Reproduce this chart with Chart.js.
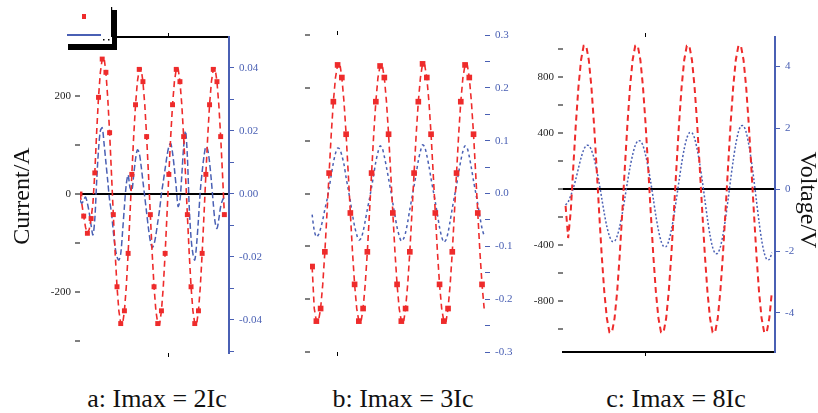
<!DOCTYPE html>
<html>
<head>
<meta charset="utf-8">
<script src="https://cdn.jsdelivr.net/npm/chart.js@4.4.1/dist/chart.umd.min.js"></script>
<style>
  body { margin: 0; background: #fff; width: 818px; height: 413px; position: relative; overflow: hidden; font-family: 'Liberation Serif', serif; }
  canvas { position: absolute; top: 0; }
  .ttl { position: absolute; width: 140px; height: 28px; line-height: 28px; text-align: center; font-size: 24px; color: #111; }
  .cap { position: absolute; top: 384px; width: 220px; height: 30px; line-height: 30px; text-align: center; font-size: 26px; color: #111; }
</style>
</head>
<body>
<canvas id="pa" width="260" height="370" style="left:30px"></canvas>
<canvas id="pb" width="270" height="370" style="left:260px"></canvas>
<canvas id="pc" width="298" height="370" style="left:520px"></canvas>
<div class="ttl" style="left:-49px;top:182px;transform:rotate(-90deg)">Current/A</div>
<div class="ttl" style="left:739px;top:186px;transform:rotate(90deg)">Voltage/V</div>
<div class="cap" style="left:47px">a: Imax = 2Ic</div>
<div class="cap" style="left:293px">b: Imax = 3Ic</div>
<div class="cap" style="left:566px">c: Imax = 8Ic</div>
<script>
// time in ms, one sample per ms
var timeA = [0,1,2,3,4,5,6,7,8,9,10,11,12,13,14,15,16,17,18,19,20,21,22,23,24,25,26,27,28,29,30,31,32,33,34,35,36,37,38,39,
  40,41,42,43,44,45,46,47,48,49,50,51,52,53,54,55,56,57,58,59,60,61,62,63,64,65,66,67,68,69,70,71,72,73,74,75,76,77,78];
var currentA = [0,-20,-45,-68,-80,-72,-50,-18,43,126,197,248,275,278,248,195,125,42,-42,-121,-189,-238,-264,-266,-238,-189,-121,-42,
  40,117,182,229,254,256,229,182,117,40,-42,-121,-189,-238,-264,-266,-238,-189,-121,-42,
  40,117,182,229,254,256,229,182,117,40,-42,-121,-189,-238,-264,-266,-238,-189,-121,-42,
  40,117,182,229,254,256,229,182,117,40,-42];
var voltageA = [-0.002,-0.003,-0.002,-0.001,-0.003,-0.006,-0.010,-0.013,-0.008,0.004,0.014,0.020,0.021,0.016,0.010,0.004,-0.002,-0.006,-0.012,-0.017,
  -0.020,-0.021,-0.019,-0.012,-0.004,0.003,0.006,0.002,0.001,0.006,0.011,0.014,0.013,0.009,0.004,-0.001,-0.006,-0.011,-0.015,-0.017,
  -0.016,-0.013,-0.009,-0.005,0.000,0.004,0.008,0.012,0.015,0.016,0.013,0.008,0.002,-0.004,-0.002,0.006,0.015,0.020,0.012,-0.004,
  -0.014,-0.019,-0.021,-0.016,-0.008,0.001,0.007,0.012,0.015,0.014,0.010,0.004,-0.003,-0.009,-0.011,-0.008,-0.004,-0.002,-0.001];

var timeB = [1,2,3,4,5,6,7,8,9,10,11,12,13,14,15,16,17,18,19,20,21,22,23,24,25,26,27,28,29,30,31,32,33,34,35,36,37,38,39,40,
  41,42,43,44,45,46,47,48,49,50,51,52,53,54,55,56,57,58,59,60,61,62,63,64,65,66,67,68,69,70,71,72,73,74,75,76,77,78,79,80,81,82];
var currentB = [-70,-110,-122,-122,-110,-87,-56,-19,19,56,87,110,122,124,110,87,56,19,-19,-56,
  -87,-110,-122,-123,-110,-87,-56,-19,19,56,87,110,121,122,110,87,56,19,-19,-56,
  -87,-110,-122,-124,-110,-87,-56,-19,19,56,87,110,123,122,110,87,56,19,-19,-56,
  -87,-110,-122,-123,-110,-87,-56,-19,19,56,87,110,122,123,110,87,56,19,-19,-56,-87,-110];
var voltageB = [-0.040,-0.070,-0.082,-0.078,-0.066,-0.050,-0.030,-0.012,0.010,0.035,0.058,0.076,0.086,0.084,0.072,0.055,0.030,0.008,-0.015,-0.040,
  -0.062,-0.078,-0.088,-0.085,-0.072,-0.052,-0.030,-0.010,0.012,0.036,0.060,0.078,0.090,0.086,0.070,0.050,0.028,0.006,-0.018,-0.042,
  -0.064,-0.080,-0.090,-0.086,-0.074,-0.054,-0.030,-0.008,0.014,0.038,0.062,0.080,0.092,0.088,0.072,0.052,0.028,0.006,-0.016,-0.040,
  -0.064,-0.082,-0.092,-0.088,-0.074,-0.052,-0.028,-0.006,0.016,0.040,0.062,0.080,0.090,0.086,0.070,0.048,0.024,0.002,-0.020,-0.044,-0.066,-0.080];

var timeC = [1,2,3,4,5,6,7,8,9,10,11,12,13,14,15,16,17,18,19,20,21,22,23,24,25,26,27,28,29,30,31,32,33,34,35,36,37,38,39,40,
  41,42,43,44,45,46,47,48,49,50,51,52,53,54,55,56,57,58,59,60,61,62,63,64,65,66,67,68,69,70,71,72,73,74,75,76,77,78,79,80,81];
var currentC = [-120,-350,-160,161,470,732,922,1023,1023,922,732,470,161,-161,-470,-732,-922,-1023,-1023,-922,
  -732,-470,-161,161,470,732,922,1023,1023,922,732,470,161,-161,-470,-732,-922,-1023,-1023,-922,
  -732,-470,-161,161,470,732,922,1023,1023,922,732,470,161,-161,-470,-732,-922,-1023,-1023,-922,
  -732,-470,-161,161,470,732,922,1023,1023,922,732,470,161,-161,-470,-732,-922,-1023,-1023,-922,-732];
var voltageC = [-0.5,-0.4,-0.2,0.05,0.35,0.7,1.03,1.29,1.43,1.43,1.29,1.03,0.66,0.23,-0.27,-0.77,-1.2,-1.51,-1.68,-1.68,
  -1.51,-1.2,-0.77,-0.27,0.25,0.73,1.13,1.43,1.58,1.58,1.43,1.13,0.73,0.25,-0.29,-0.85,-1.32,-1.67,-1.85,-1.85,
  -1.67,-1.32,-0.85,-0.29,0.29,0.85,1.32,1.67,1.85,1.85,1.67,1.32,0.85,0.29,-0.33,-0.95,-1.48,-1.87,-2.07,-2.07,
  -1.87,-1.48,-0.95,-0.33,0.33,0.95,1.48,1.87,2.07,2.07,1.87,1.48,0.95,0.33,-0.36,-1.04,-1.63,-2.05,-2.27,-2.27,-2.05];

var red = '#ee2b2b';
var blue = '#4a60b4';

Chart.defaults.font.family = "'Liberation Serif', serif";
Chart.defaults.font.size = 11;

function pts(t, v) {
    return t.map(function (x, i) { return { x: x, y: v[i] }; });
}

function fixed(n) {
    return function (s) { s.width = n; };
}

function fixedH(n) {
    return function (s) { s.height = n; };
}

// legend box with shadow in panel a
var legendBox = {
    id: 'legendBox',
    afterDraw: function (chart) {
        var ctx = chart.ctx, a = chart.chartArea;
        var x = a.left - 13, y = a.top - 30;
        ctx.save();
        ctx.fillStyle = '#fff';
        ctx.fillRect(x, y, 45, 37);
        ctx.fillStyle = '#000';
        ctx.fillRect(x + 45, y + 3, 5, 40);
        ctx.fillRect(x + 1, y + 37, 49, 6);
        ctx.fillRect(x + 44, y, 1.2, 30);
        ctx.fillRect(x + 36, y + 32, 1.5, 1.5);
        ctx.fillRect(x + 41, y + 32, 1.5, 1.5);
        ctx.fillStyle = red;
        ctx.fillRect(x + 15, y + 7, 4, 5);
        ctx.strokeStyle = blue;
        ctx.lineWidth = 2;
        ctx.beginPath();
        ctx.moveTo(x, y + 28);
        ctx.lineTo(x + 34, y + 28);
        ctx.stroke();
        ctx.restore();
    }
};

function panel(id, p) {
    var xAxis = function (pos, h, line) {
        return {
            type: 'linear', position: pos, min: 0, max: p.xMax,
            afterFit: fixedH(h),
            afterBuildTicks: function (s) { s.ticks = [{ value: p.xTick }]; },
            ticks: { display: false },
            grid: { drawOnChartArea: false, tickLength: 4, tickColor: '#000', tickWidth: 1 },
            border: { display: line, color: '#000', width: 2 }
        };
    };
    return new Chart(document.getElementById(id), {
        type: 'line',
        data: {
            datasets: [{
                data: pts(p.t1, p.current),
                yAxisID: 'y',
                borderColor: red,
                backgroundColor: red,
                borderWidth: p.redWidth,
                borderDash: p.redDash,
                pointStyle: 'rect',
                pointRadius: function (c) { return c.dataIndex % 2 === 0 ? p.mark : 0; },
                pointBorderWidth: 0,
                tension: 0
            }, {
                data: pts(p.t2, p.voltage),
                yAxisID: 'y1',
                borderColor: blue,
                borderWidth: p.blueWidth,
                borderDash: p.blueDash,
                pointRadius: 0,
                tension: 0.3
            }]
        },
        options: {
            responsive: false,
            animation: false,
            devicePixelRatio: 1,
            layout: { padding: 0 },
            plugins: { legend: { display: false }, tooltip: { enabled: false } },
            scales: {
                x: xAxis('bottom', p.bottomH, p.bottomLine),
                x2: xAxis('top', p.topH, p.topLine),
                y: {
                    position: 'left', min: p.yMin, max: p.yMax,
                    afterFit: fixed(p.leftW),
                    ticks: {
                        stepSize: p.yStep, includeBounds: false, color: '#222', padding: 4,
                        callback: p.yLabel
                    },
                    grid: {
                        color: function (c) { return c.tick && c.tick.value === 0 ? p.zeroColor : 'rgba(0,0,0,0)'; },
                        lineWidth: 2, tickColor: '#000', tickWidth: 1, tickLength: 5
                    },
                    border: { display: false }
                },
                y1: {
                    position: 'right', min: p.vMin, max: p.vMax,
                    afterFit: fixed(p.rightW),
                    ticks: {
                        stepSize: p.vStep, includeBounds: false, color: blue, padding: 5,
                        callback: p.vLabel
                    },
                    grid: { drawOnChartArea: false, tickColor: blue, tickWidth: 1, tickLength: 5 },
                    border: { display: p.rightLine, color: blue, width: 2 }
                }
            }
        },
        plugins: p.plugins || []
    });
}

panel('pa', {
    t1: timeA, current: currentA, t2: timeA, voltage: voltageA,
    xMax: 80.5, xTick: 48,
    yMin: -324, yMax: 320, yStep: 100,
    yLabel: function (v) { return v % 200 === 0 ? String(v) : ''; },
    vMin: -0.0505, vMax: 0.0498, vStep: 0.01,
    vLabel: function (v) { return Math.round(v * 100) % 2 === 0 ? v.toFixed(2) : ''; },
    leftW: 50, rightW: 61, topH: 37, bottomH: 17,
    topLine: true, bottomLine: false, rightLine: true, zeroColor: '#000',
    redWidth: 1.6, redDash: [6, 4], mark: 3.5,
    blueWidth: 1.5, blueDash: [6, 3],
    plugins: [legendBox]
});

panel('pb', {
    t1: timeB, current: currentB, t2: timeB, voltage: voltageB,
    xMax: 82.4, xTick: 13,
    yMin: -151.4, yMax: 150.5, yStep: 50,
    yLabel: function (v) { return v % 100 === 0 ? String(v) : ''; },
    vMin: -0.3, vMax: 0.3, vStep: 0.05,
    vLabel: function (v) { return Math.round(v * 100) % 10 === 0 ? v.toFixed(1) : ''; },
    leftW: 50, rightW: 45, topH: 35, bottomH: 18,
    topLine: false, bottomLine: false, rightLine: false, zeroColor: 'rgba(0,0,0,0)',
    redWidth: 1.6, redDash: [6, 4], mark: 4,
    blueWidth: 1.5, blueDash: [3, 3]
});

panel('pc', {
    t1: timeC, current: currentC, t2: timeC, voltage: voltageC,
    xMax: 82.2, xTick: 32,
    yMin: -1164, yMax: 1086, yStep: 200,
    yLabel: function (v) { return v !== 0 && v % 400 === 0 ? String(v) : ''; },
    vMin: -5.28, vMax: 4.96, vStep: 2,
    vLabel: function (v) { return String(v); },
    leftW: 43, rightW: 43, topH: 37, bottomH: 18,
    topLine: false, bottomLine: true, rightLine: true, zeroColor: '#000',
    redWidth: 2, redDash: [6, 4], mark: 0,
    blueWidth: 1.5, blueDash: [2, 2]
});
</script>
</body>
</html>
